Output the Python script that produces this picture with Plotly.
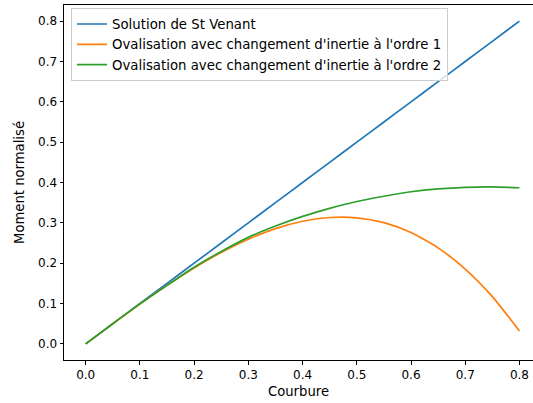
import plotly.graph_objects as go

courbure = [0.0, 0.05, 0.1, 0.15, 0.2, 0.25, 0.3, 0.35, 0.4, 0.45, 0.5, 0.55, 0.6, 0.65, 0.7, 0.75, 0.8]
st_venant = [0.0, 0.05, 0.1, 0.15, 0.2, 0.25, 0.3, 0.35, 0.4, 0.45, 0.5, 0.55, 0.6, 0.65, 0.7, 0.75, 0.8]
ordre1 = [0.0, 0.0498, 0.0985, 0.1449, 0.188, 0.2266, 0.2595, 0.2857, 0.304, 0.3133, 0.3125, 0.3004, 0.276, 0.238, 0.1855, 0.1172, 0.032]
ordre2 = [0.0, 0.0499, 0.099, 0.145, 0.190, 0.229, 0.264, 0.292, 0.316, 0.336, 0.353, 0.366, 0.377, 0.384, 0.388, 0.389, 0.387]

names = [
    "Solution de St Venant",
    "Ovalisation avec changement d'inertie à l'ordre 1",
    "Ovalisation avec changement d'inertie à l'ordre 2",
]
colors = ["#1f77b4", "#ff7f0e", "#2ca02c"]
series = [st_venant, ordre1, ordre2]

tick_font = dict(family="DejaVu Sans", size=12, color="#000000")
label_font = dict(family="DejaVu Sans", size=13.2, color="#000000")
legend_font = dict(family="DejaVu Sans", size=13.3, color="#000000")

fig = go.Figure()
for i, (nm, c, s) in enumerate(zip(names, colors, series)):
    fig.add_trace(go.Scatter(
        x=courbure, y=s, mode="lines", name=nm,
        line=dict(color=c, width=1.7, shape="spline", smoothing=0.6),
        legendgroup=f"g{i}",
    ))

tickvals = [0.0, 0.1, 0.2, 0.3, 0.4, 0.5, 0.6, 0.7, 0.8]
ticktext = ["0.0", "0.1", "0.2", "0.3", "0.4", "0.5", "0.6", "0.7", "0.8"]

fig.update_layout(
    width=533, height=403,
    margin=dict(l=64, r=0, t=5, b=43, autoexpand=False),
    paper_bgcolor="white", plot_bgcolor="white",
    font=tick_font,
    showlegend=True,
    legend=dict(
        x=0.015, y=0.992, xanchor="left", yanchor="top",
        bgcolor="rgba(255,255,255,0.8)", bordercolor="#cccccc", borderwidth=1,
        font=legend_font, tracegroupgap=0, traceorder="grouped",
    ),
    xaxis=dict(
        range=[-0.04, 0.825], tickvals=tickvals, ticktext=ticktext,
        showgrid=False, zeroline=False, showline=True, mirror=True,
        linecolor="black", linewidth=1, ticks="outside", ticklen=3.5,
        tickcolor="black", tickwidth=1, tickfont=tick_font, automargin=False,
        title=dict(text="Courbure", font=label_font, standoff=5),
    ),
    yaxis=dict(
        range=[-0.04, 0.84], tickvals=tickvals, ticktext=ticktext,
        showgrid=False, zeroline=False, showline=True, mirror=False,
        linecolor="black", linewidth=1, ticks="outside", ticklen=3.5,
        tickcolor="black", tickwidth=1, tickfont=tick_font, automargin=False,
        title=dict(text="Moment normalisé", font=label_font, standoff=10),
    ),
)

fig.write_html(
    "out.html",
    config={"displayModeBar": False},
    post_script="document.body.style.margin='0px';document.body.style.padding='0px';",
)
